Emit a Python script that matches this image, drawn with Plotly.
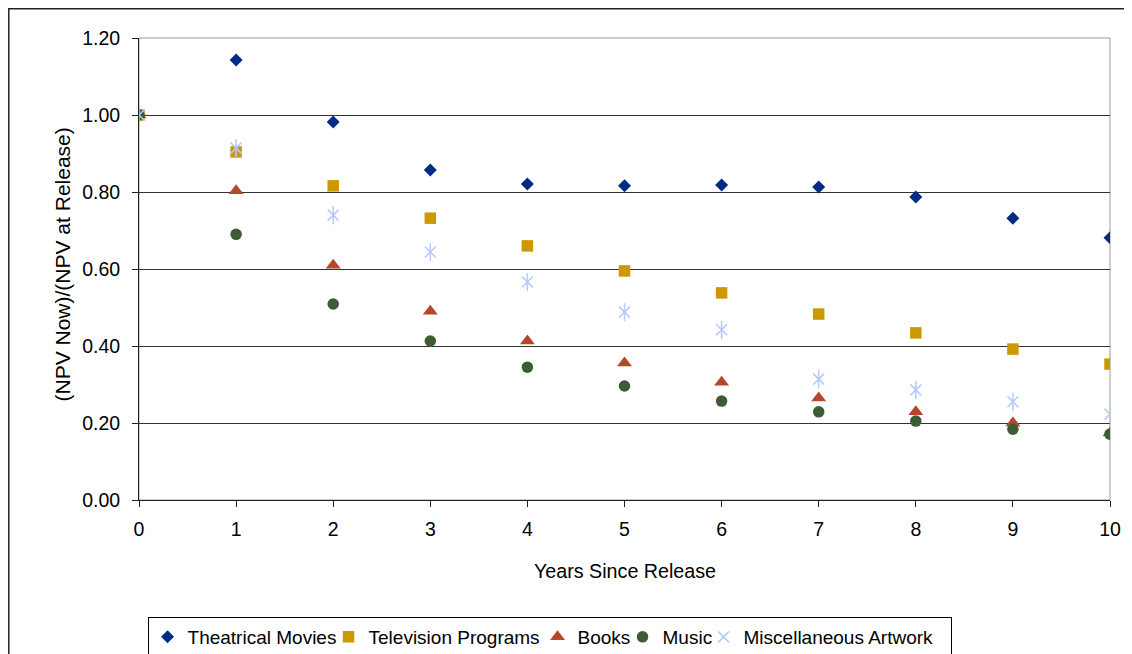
import plotly.graph_objects as go

years = [0, 1, 2, 3, 4, 5, 6, 7, 8, 9, 10]
theatrical = [1.00, 1.143, 0.982, 0.857, 0.821, 0.816, 0.818, 0.813, 0.787, 0.732, 0.681]
television = [1.00, 0.904, 0.816, 0.732, 0.660, 0.595, 0.538, 0.483, 0.434, 0.392, 0.353]
books = [1.00, 0.803, 0.610, 0.490, 0.413, 0.356, 0.306, 0.265, 0.229, 0.200, 0.174]
music = [1.00, 0.690, 0.509, 0.413, 0.345, 0.296, 0.257, 0.229, 0.205, 0.184, 0.171]
misc = [1.00, 0.914, 0.740, 0.644, 0.566, 0.488, 0.442, 0.314, 0.286, 0.255, 0.223]

FONT = "Liberation Sans, Arial, sans-serif"

fig = go.Figure()
fig.add_trace(go.Scatter(x=years, y=theatrical, mode="markers", name="Theatrical Movies",
                         legendwidth=136,
                         marker=dict(symbol="diamond", size=10, color="#002C86")))
fig.add_trace(go.Scatter(x=years, y=television, mode="markers", name="Television Programs",
                         legendwidth=164,
                         marker=dict(symbol="square", size=11.5, color="#CC9900")))
fig.add_trace(go.Scatter(x=years, y=books, mode="markers", name="Books",
                         legendwidth=40,
                         marker=dict(symbol="triangle-up", size=13, color="#B5472C")))
fig.add_trace(go.Scatter(x=years, y=music, mode="markers", name="Music",
                         legendwidth=36,
                         marker=dict(symbol="circle", size=11.5, color="#3D5C36")))
fig.add_trace(go.Scatter(x=years, y=misc, mode="markers", name="Miscellaneous Artwork",
                         legendgroup="misc", legendwidth=202,
                         marker=dict(symbol="x-thin-open", size=11,
                                     line=dict(color="#B3C9FF", width=1.5), color="#B3C9FF")))
fig.add_trace(go.Scatter(x=years, y=misc, mode="markers", name="Miscellaneous Artwork",
                         legendgroup="misc", showlegend=False,
                         marker=dict(symbol="line-ns-open", size=13,
                                     line=dict(color="#B3C9FF", width=1.5), color="#B3C9FF")))

fig.update_layout(
    width=1132, height=654,
    margin=dict(l=131, r=30, t=30, b=162, autoexpand=False),
    paper_bgcolor="white", plot_bgcolor="white",
    font=dict(family=FONT, size=19.5, color="black"),
    showlegend=True,
    legend=dict(orientation="h", x=0.4228, y=0.0688, xanchor="center", yanchor="top",
                yref="container",
                bordercolor="black", borderwidth=1, font=dict(size=19),
                itemwidth=30, tracegroupgap=0),
    xaxis=dict(range=[0, 10], dtick=1, tick0=0, showgrid=False, zeroline=False,
               showline=True, linecolor="#222", linewidth=1, automargin=False,
               ticks="outside", ticklen=6, tickcolor="#222",
               tickfont=dict(size=19.5), ticklabelstandoff=6),
    yaxis=dict(range=[0, 1.2], dtick=0.2, tick0=0, tickformat=".2f",
               showgrid=True, gridcolor="#333", gridwidth=1, zeroline=False,
               showline=True, linecolor="#222", linewidth=1, automargin=False,
               ticks="outside", ticklen=6, tickcolor="#222",
               tickfont=dict(size=19.5), ticklabelstandoff=8),
    annotations=[
        dict(text="Years Since Release", x=0.5, y=-0.1537, xref="paper", yref="paper",
             xanchor="center", yanchor="middle", showarrow=False, font=dict(size=19.7)),
        dict(text="(NPV Now)/(NPV at Release)", x=-0.0783, y=0.5097, xref="paper", yref="paper",
             xanchor="center", yanchor="middle", showarrow=False, textangle=-90,
             font=dict(size=21)),
    ],
    shapes=[
        dict(type="rect", xref="paper", yref="paper", x0=0, x1=1, y0=0, y1=1,
             line=dict(color="#9a9a9a", width=1), layer="below"),
        dict(type="rect", xref="paper", yref="paper", x0=-0.1341, x1=1.04, y0=-0.36, y1=1.0634,
             line=dict(color="#222", width=1.5)),
    ],
)

fig.write_html("out.html")
